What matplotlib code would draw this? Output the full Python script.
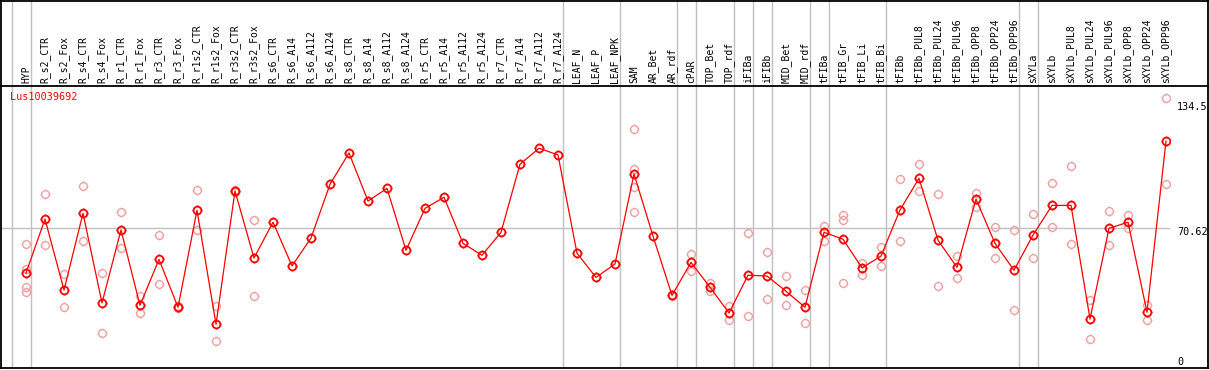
import matplotlib
matplotlib.use("Agg")
import matplotlib.pyplot as plt
import matplotlib.transforms as mtransforms
from matplotlib.path import Path
from matplotlib.lines import Line2D

samples = ['HYP', 'R_s2_CTR', 'R_s2_Fox', 'R_s4_CTR', 'R_s4_Fox', 'R_r1_CTR', 'R_r1_Fox',
           'R_r3_CTR', 'R_r3_Fox', 'R_r1s2_CTR', 'R_r1s2_Fox', 'R_r3s2_CTR', 'R_r3s2_Fox',
           'R_s6_CTR', 'R_s6_A14', 'R_s6_A112', 'R_s6_A124', 'R_s8_CTR', 'R_s8_A14',
           'R_s8_A112', 'R_s8_A124', 'R_r5_CTR', 'R_r5_A14', 'R_r5_A112', 'R_r5_A124',
           'R_r7_CTR', 'R_r7_A14', 'R_r7_A112', 'R_r7_A124', 'LEAF_N', 'LEAF_P', 'LEAF_NPK',
           'SAM', 'AR_Bet', 'AR_rdf', 'cPAR', 'TOP_Bet', 'TOP_rdf', 'iFIBa', 'iFIBb',
           'MID_Bet', 'MID_rdf', 'tFIBa', 'tFIB_Gr', 'tFIB_Li', 'tFIB_Bi', 'tFIBb',
           'tFIBb_PUL8', 'tFIBb_PUL24', 'tFIBb_PUL96', 'tFIBb_OPP8', 'tFIBb_OPP24',
           'tFIBb_OPP96', 'sXYLa', 'sXYLb', 'sXYLb_PUL8', 'sXYLb_PUL24', 'sXYLb_PUL96',
           'sXYLb_OPP8', 'sXYLb_OPP24', 'sXYLb_OPP96']

means = [48.0, 75.3, 39.4, 78.2, 32.9, 69.8, 31.7, 54.9, 30.7, 79.7, 22.1, 89.5, 55.6,
         73.7, 51.6, 65.7, 92.9, 108.7, 84.4, 90.8, 59.5, 80.7, 86.3, 63.0, 57.0, 68.6,
         103.0, 111.1, 107.7, 58.0, 45.8, 52.6, 98.1, 66.7, 36.7, 53.4, 40.8, 27.8, 46.9,
         46.5, 38.8, 30.7, 68.6, 65.1, 50.6, 56.6, 79.9, 95.9, 64.6, 50.9, 85.4, 63.0,
         49.4, 67.2, 82.2, 82.2, 24.8, 70.6, 73.7, 28.2, 114.7]

replicates = [[62.5, 50.2, 40.9, 38.6], [88.0, 62.0], [47.5, 30.7], [92.0, 64.2],
              [47.9, 17.7], [78.9, 60.5], [36.4, 27.7], [67.1, 42.5], [31.3, 30.2],
              [90.0, 69.6], [31.3, 13.6], [90.0, 89.0], [74.8, 36.4],
              [], [], [], [], [], [], [], [], [], [], [], [], [], [], [], [], [], [], [],
              [120.8, 100.6, 91.3, 78.7], [], [37.0, 36.4], [57.5, 49.0], [43.1, 39.1],
              [31.5, 24.1], [68.1, 26.1], [58.5, 34.7], [46.4, 31.7], [39.3, 22.7],
              [71.8, 64.4], [77.5, 74.8, 42.8], [53.2, 46.9], [61.0, 51.6], [95.4, 64.0],
              [103.0, 89.3], [87.8, 41.5], [56.6, 45.3], [88.6, 81.5], [71.1, 55.5],
              [69.6, 29.3], [77.7, 55.5], [93.5, 71.1], [102.0, 62.7], [34.4, 14.7],
              [79.4, 62.0], [77.3, 70.6], [31.8, 24.3], [136.3, 92.9]]

# group separators come after these sample numbers (0 = left edge)
separators = [0, 1, 29, 32, 35, 36, 38, 39, 40, 42, 43, 46, 53, 54, 61]
gene = 'Lus10039692'
mid_val = 70.62
max_label = '134.5'

W, H = 1209, 370
fig = plt.figure(figsize=(W / 100, H / 100), dpi=100)
fig.patch.set_facecolor('white')

left = 2 / W
width = 1168 / W
head_y = 86
ax = fig.add_axes([left, 2 / H, width, (368 - head_y) / H])
axh = fig.add_axes([left, 1 - head_y / H, width, head_y / H])

xmin, xmax = -24 / 19, 1144 / 19
ymax = (368 - head_y) * 0.5055
for a in (ax, axh):
    a.set_xlim(xmin, xmax)
    a.axis('off')
ax.set_ylim(0, ymax)
axh.set_ylim(0, 1)

grey = '#c0c0c0'
for s in separators:
    for a in (ax, axh):
        a.axvline(s - 1 + 5 / 19, color=grey, lw=1, zorder=0)
ax.axhline(mid_val, color=grey, lw=1, zorder=0)

# circle marker with small ticks
circ = Path.unit_circle()
tk = 1.25
ticks = Path([(0, 1), (0, tk), (0, -1), (0, -tk), (1, 0), (tk, 0), (-1, 0), (-tk, 0)],
             [Path.MOVETO, Path.LINETO] * 4)
mark = Path.make_compound_path(circ, ticks)

rx, ry = [], []
for i, reps in enumerate(replicates):
    for r in reps:
        rx.append(i)
        ry.append(r)
ax.plot(rx, ry, ls='none', marker=mark, ms=7, mfc='none', mec='#f0a0a0', mew=1.0, zorder=2)

xs = list(range(len(samples)))
ax.plot(xs, means, color='red', lw=0.9, zorder=3)
ax.plot(xs, means, ls='none', marker=mark, ms=7, mfc='none', mec='red', mew=1.3, zorder=4)

font = 'DejaVu Sans Mono'
trans = mtransforms.blended_transform_factory(axh.transData, axh.transAxes)
for i, name in enumerate(samples):
    axh.text(i, 0.035, name, rotation=90, ha='center', va='bottom', fontsize=7,
             family=font, transform=trans)

fig.text(10 / W, 1 - 97 / H, gene, color='red', fontsize=7.3, family=font,
         ha='left', va='center')
fig.text(1177 / W, 1 - 107 / H, max_label, fontsize=7.3, family=font, ha='left', va='center')
fig.text(1177 / W, 1 - 232 / H, f'{mid_val:.2f}', fontsize=7.3, family=font, ha='left', va='center')
fig.text(1177 / W, 1 - 362 / H, '0', fontsize=7.3, family=font, ha='left', va='center')

# outer frame and header line
def fline(x0, y0, x1, y1):
    fig.add_artist(Line2D([x0 / W, x1 / W], [1 - y0 / H, 1 - y1 / H], color='black',
                          lw=1.3, transform=fig.transFigure))

fline(1, 0.5, 1208, 0.5)
fline(1, 368, 1208, 368)
fline(1, 0, 1, 368)
fline(1208, 0, 1208, 368)
fline(1, head_y, 1208, head_y)

fig.savefig('out.png', dpi=100)
